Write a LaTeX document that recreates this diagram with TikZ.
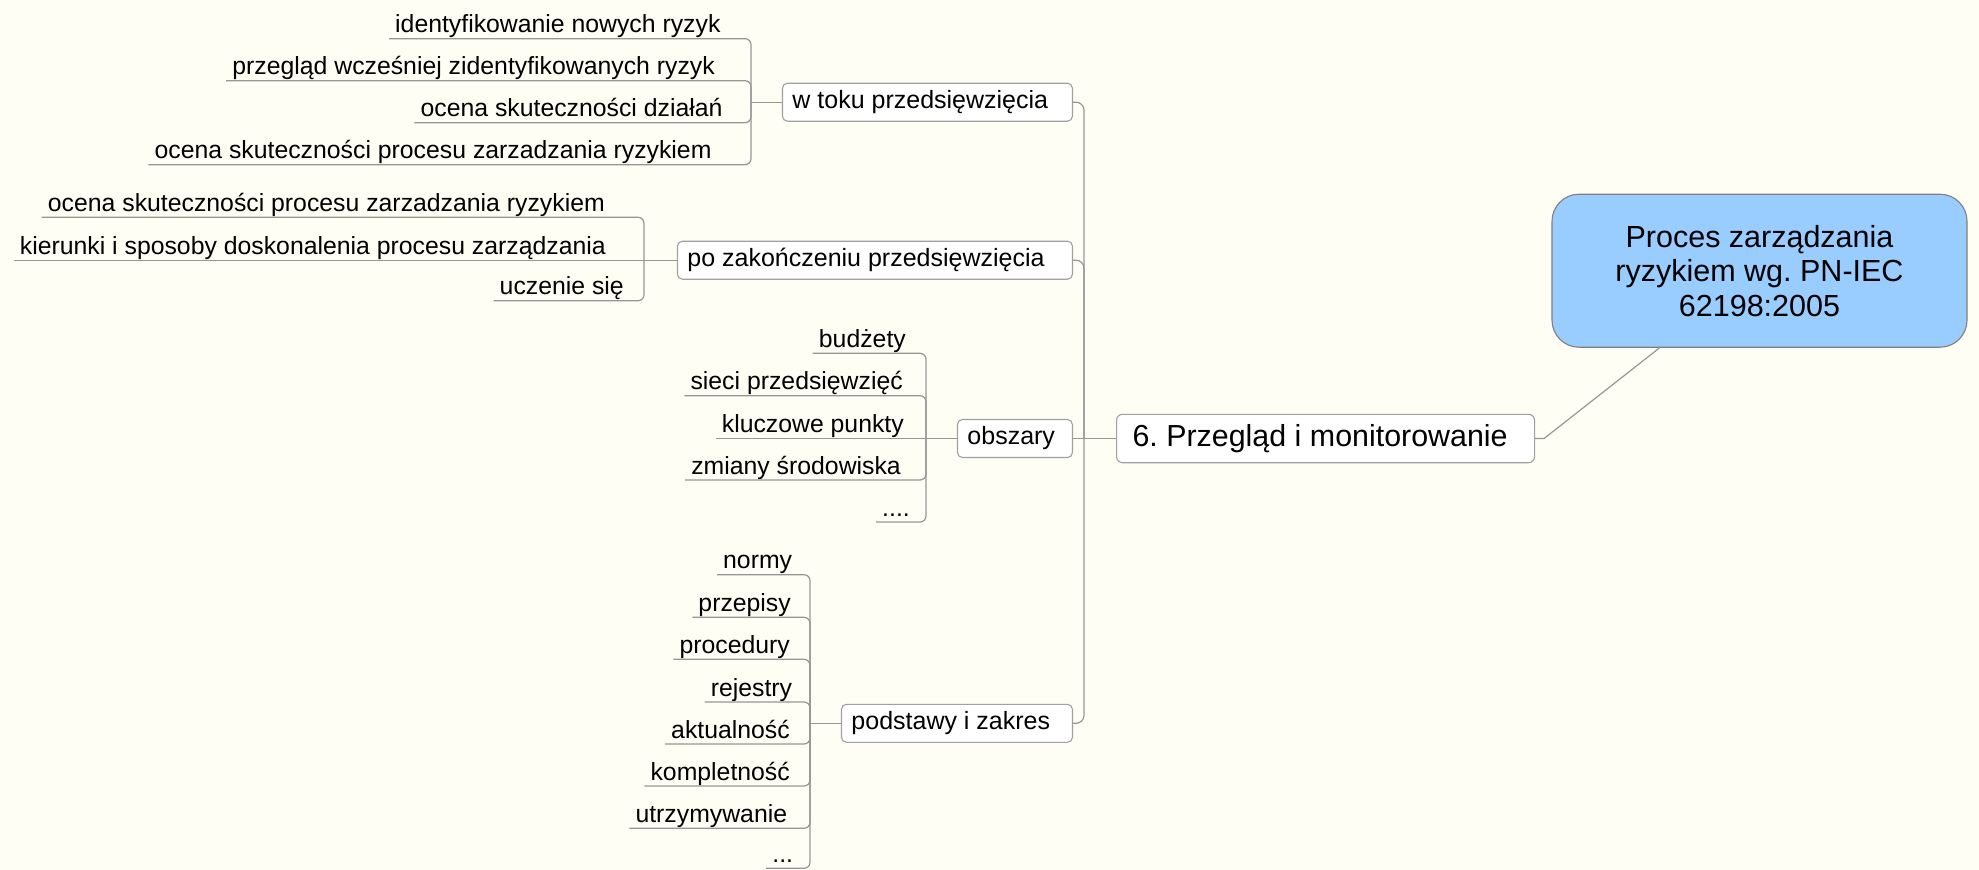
\documentclass[tikz,border=0pt]{standalone}
\usepackage{fontspec}
\setmainfont{Liberation Sans}
\usetikzlibrary{calc}

\definecolor{bgcream}{RGB}{255,254,245}
\definecolor{linegray}{RGB}{150,150,150}
\definecolor{boxgray}{RGB}{160,160,160}
\definecolor{rootgray}{RGB}{128,128,128}
\definecolor{rootblue}{RGB}{153,204,255}

% leaf with underline: #1 name, #2 junction, #3 right edge of text, #4 underline y, #5 text
\newcommand{\mmleaf}[5]{%
  \node[leaf] (#1) at (#3,#4-6) {#5};
  \draw[conn, rounded corners=6pt] (#2) |- ($(#1.base west)+(-6,6)$);
}
% leaf lying on the level of its junction
\newcommand{\mmleafflat}[5]{%
  \node[leaf] (#1) at (#3,#4-6) {#5};
  \draw[conn] (#2) -- ($(#1.base west)+(-6,6)$);
}

\begin{document}
\frenchspacing
\begin{tikzpicture}[x=1pt,y=-1pt,
  conn/.style={draw=linegray, line width=1.2pt},
  leaf/.style={inner sep=0pt, anchor=base east, font=\fontsize{24.8}{30}\selectfont},
  topic/.style={draw=boxgray, fill=white, rounded corners=5pt, line width=1.1pt,
    inner xsep=10pt, inner ysep=0pt, minimum height=38pt,
    text height=18.5pt, text depth=6pt, align=flush left, anchor=east,
    font=\fontsize{25}{30}\selectfont},
]
\fill[bgcream] (0,0) rectangle (1979,870);
\useasboundingbox (0,0) rectangle (1979,870);

% root and main topic
\node[draw=rootgray, fill=rootblue, line width=1.1pt, rounded corners=27pt,
      minimum width=415pt, minimum height=153pt, inner sep=0pt, align=center,
      font=\fontsize{30.5}{34.5}\selectfont] (root) at (1759.5,270.7)
  {Proces zarządzania\\ryzykiem wg. PN-IEC\\62198:2005};
\node[draw=boxgray, fill=white, rounded corners=6pt, line width=1.1pt,
      inner xsep=16pt, inner ysep=0pt, minimum height=48.4pt, text width=386pt,
      text height=22pt, text depth=7pt, align=flush left, anchor=west,
      font=\fontsize{30.4}{36}\selectfont] (main) at (1116,438.5)
  {6. Przegląd i monitorowanie};
\draw[conn] (main.east) -- ++(9,0) -- ($(root.south west)!0.26!(root.south east)$);

% second-level topics
\node[topic, text width=270pt] (wtoku) at (1073,102.2) {w toku przedsięwzięcia};
\node[topic, text width=375pt] (pozak) at (1073,260.2) {po zakończeniu przedsięwzięcia};
\node[topic, text width=95pt] (obszary) at (1073,438.5) {obszary};
\node[topic, text width=211pt] (podst) at (1073,723.3) {podstawy i zakres};

% trunk
\coordinate (tj) at (1084,438.5);
\draw[conn] (main.west) -- (tj);
\draw[conn, rounded corners=8pt] (tj) |- (wtoku.east);
\draw[conn, rounded corners=8pt] (tj) |- (pozak.east);
\draw[conn] (tj) -- (obszary.east);
\draw[conn, rounded corners=8pt] (tj) |- (podst.east);

% w toku przedsięwzięcia
\coordinate (ja) at (751,102.2);
\draw[conn] (wtoku.west) -- (ja);
\mmleaf{a1}{ja}{720.7}{38.7}{identyfikowanie nowych ryzyk}
\mmleaf{a2}{ja}{715}{80.7}{przegląd wcześniej zidentyfikowanych ryzyk}
\mmleaf{a3}{ja}{722.7}{122.7}{ocena skuteczności działań}
\mmleaf{a4}{ja}{711.7}{164.7}{ocena skuteczności procesu zarzadzania ryzykiem}

% po zakończeniu przedsięwzięcia
\coordinate (jb) at (644,260.2);
\draw[conn] (pozak.west) -- (jb);
\mmleaf{b1}{jb}{605}{217.3}{ocena skuteczności procesu zarzadzania ryzykiem}
\mmleafflat{b2}{jb}{606}{260.2}{kierunki i sposoby doskonalenia procesu zarządzania}
\mmleaf{b3}{jb}{624}{300.7}{uczenie się}

% obszary
\coordinate (jc) at (926,438.5);
\draw[conn] (obszary.west) -- (jc);
\mmleaf{c1}{jc}{906}{353.3}{budżety}
\mmleaf{c2}{jc}{903}{395.7}{sieci przedsięwzięć}
\mmleafflat{c3}{jc}{904}{438.5}{kluczowe punkty}
\mmleaf{c4}{jc}{901}{480}{zmiany środowiska}
\mmleaf{c5}{jc}{910}{522}{....}

% podstawy i zakres
\coordinate (jd) at (810,723.3);
\draw[conn] (podst.west) -- (jd);
\mmleaf{d1}{jd}{792.3}{574.7}{normy}
\mmleaf{d2}{jd}{791}{617.3}{przepisy}
\mmleaf{d3}{jd}{790}{659.3}{procedury}
\mmleaf{d4}{jd}{792.3}{702}{rejestry}
\mmleaf{d5}{jd}{790}{744}{aktualność}
\mmleaf{d6}{jd}{790}{786}{kompletność}
\mmleaf{d7}{jd}{787.3}{828.3}{utrzymywanie}
\mmleaf{d8}{jd}{793.3}{868.3}{...}
\end{tikzpicture}
\end{document}
